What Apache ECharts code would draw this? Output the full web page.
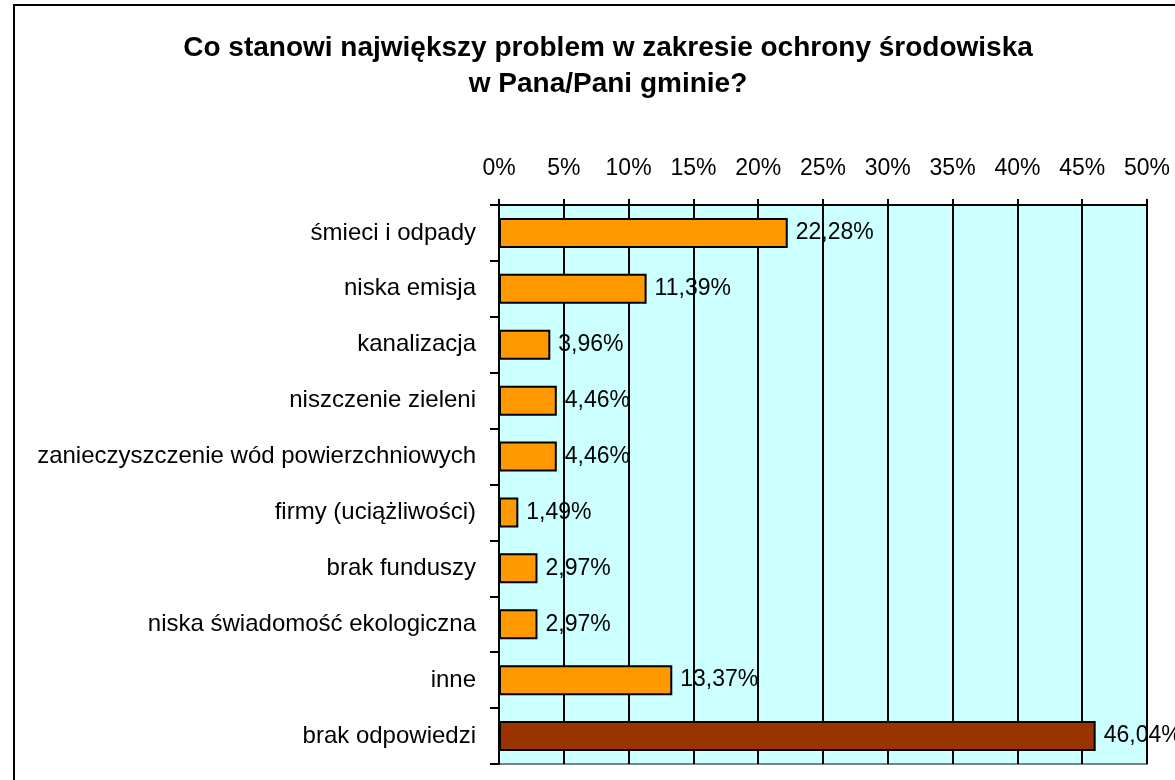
<!DOCTYPE html>
<html>
<head>
<meta charset="utf-8">
<script src="https://cdn.jsdelivr.net/npm/echarts@6/dist/echarts.min.js"></script>
<style>
html,body{margin:0;padding:0;background:#fff;}
#chart{width:1175px;height:780px;}
</style>
</head>
<body>
<div id="chart"></div>
<script>
// kategorie od góry do dołu
var categories = ['śmieci i odpady', 'niska emisja', 'kanalizacja', 'niszczenie zieleni',
	'zanieczyszczenie wód powierzchniowych', 'firmy (uciążliwości)', 'brak funduszy',
	'niska świadomość ekologiczna', 'inne', 'brak odpowiedzi'];
var values = [22.28, 11.39, 3.96, 4.46, 4.46, 1.49, 2.97, 2.97, 13.37, 46.04];
var barColors = ['#FF9900', '#FF9900', '#FF9900', '#FF9900', '#FF9900',
	'#FF9900', '#FF9900', '#FF9900', '#FF9900', '#993300'];
var tickValues = [0, 5, 10, 15, 20, 25, 30, 35, 40, 45, 50];

var font = 'Liberation Sans, Arial, sans-serif';
var seriesData = [];
for (var i = 0; i < values.length; i++) {
	seriesData.push({ value: values[i], itemStyle: { color: barColors[i] } });
}

var myChart = echarts.init(document.getElementById('chart'));
var option = {
	animation: false,
	backgroundColor: '#fff',
	textStyle: { fontFamily: font },
	title: {
		text: 'Co stanowi największy problem w zakresie ochrony środowiska\nw Pana/Pani gminie?',
		left: 603,
		textAlign: 'center',
		top: 25,
		textStyle: { fontSize: 28, fontWeight: 'bold', color: '#000', lineHeight: 36, fontFamily: font }
	},
	graphic: [{
		type: 'rect',
		shape: { x: 14, y: 5, width: 1200, height: 800 },
		style: { fill: 'none', stroke: '#000', lineWidth: 2 },
		silent: true
	}],
	grid: {
		left: 499, right: 28, top: 205, bottom: 16,
		show: true,
		backgroundColor: '#CCFFFF',
		borderColor: '#808080',
		borderWidth: 2
	},
	xAxis: {
		type: 'value',
		position: 'top',
		min: tickValues[0],
		max: tickValues[tickValues.length - 1],
		interval: 5,
		axisLine: { show: true, lineStyle: { color: '#000', width: 2 } },
		axisTick: { show: true, length: 6, inside: false, lineStyle: { color: '#000', width: 2 } },
		axisLabel: {
			margin: 25, color: '#000', fontSize: 23, fontFamily: font,
			formatter: function(v) { return v + '%'; }
		},
		splitLine: { show: true, lineStyle: { color: '#000', width: 2 } }
	},
	yAxis: {
		type: 'category',
		data: categories,
		inverse: true,
		axisLine: { show: true, lineStyle: { color: '#000', width: 2 } },
		axisTick: { show: true, length: 9, lineStyle: { color: '#000', width: 2 } },
		axisLabel: { margin: 23, color: '#000', fontSize: 24, fontFamily: font }
	},
	series: [{
		type: 'bar',
		data: seriesData,
		barWidth: 30,
		itemStyle: { borderColor: '#000', borderWidth: 2 },
		label: {
			show: true,
			position: 'right',
			distance: 8,
			color: '#000',
			fontSize: 23,
			fontFamily: font,
			formatter: function(p) { return p.value.toFixed(2).replace('.', ',') + '%'; }
		}
	}]
};
myChart.setOption(option);
</script>
</body>
</html>
